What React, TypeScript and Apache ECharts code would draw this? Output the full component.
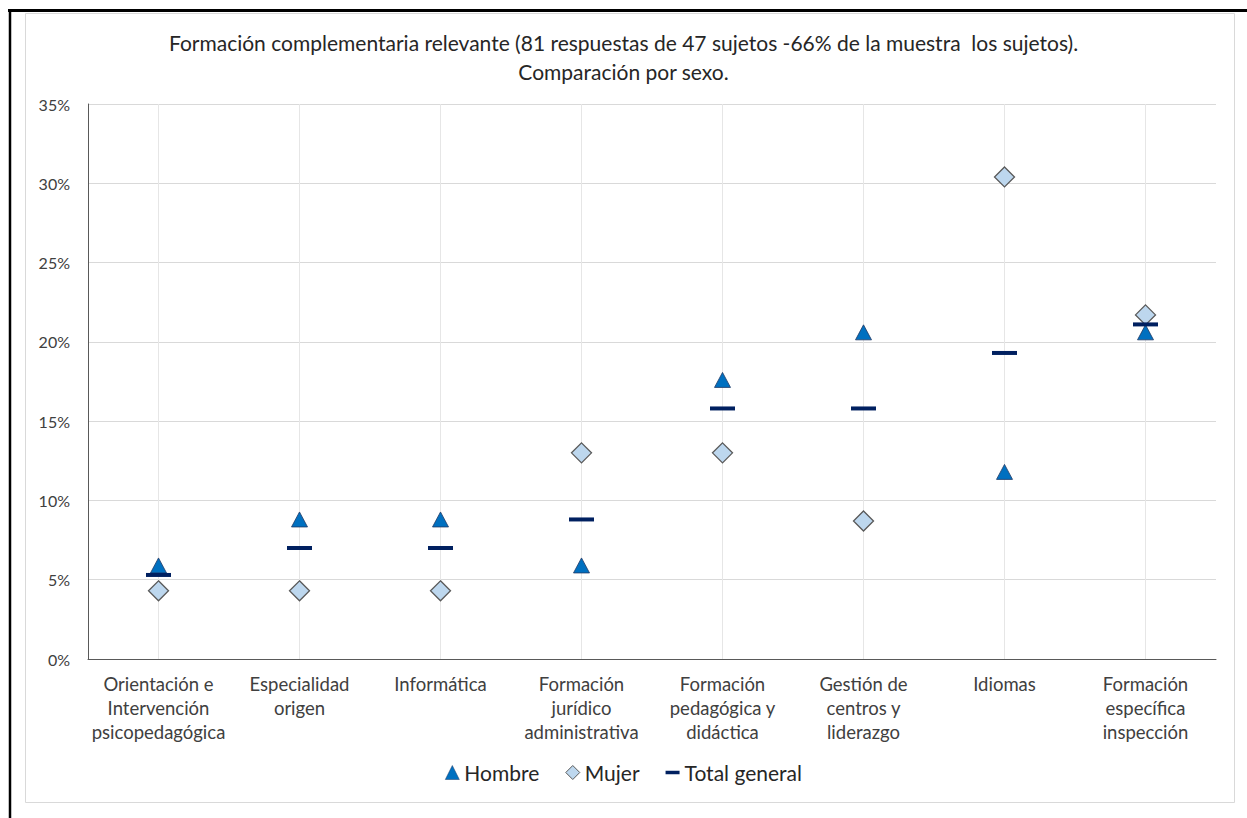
import React, { useEffect, useRef } from "react";
import * as echarts from "echarts";

const categories = [
  "Orientación e\nIntervención\npsicopedagógica",
  "Especialidad\norigen",
  "Informática",
  "Formación\njurídico\nadministrativa",
  "Formación\npedagógica y\ndidáctica",
  "Gestión de\ncentros y\nliderazgo",
  "Idiomas",
  "Formación\nespecífica\ninspección",
];
const hombre = [5.9, 8.8, 8.8, 5.9, 17.6, 20.6, 11.8, 20.6];
const mujer = [4.3, 4.3, 4.3, 13.0, 13.0, 8.7, 30.4, 21.7];
const total = [5.3, 7.0, 7.0, 8.8, 15.8, 15.8, 19.3, 21.1];
const yTicks = { min: 0, max: 35, interval: 5 };

const FONT = "Lato, 'Liberation Sans', sans-serif";
const TEXT = "#404040";

export default function App() {
  const ref = useRef<HTMLDivElement>(null);
  useEffect(() => {
    if (!ref.current) return;
    const chart = echarts.init(ref.current, null, { renderer: "svg" });
    chart.setOption({
      animation: false,
      backgroundColor: "#ffffff",
      textStyle: { fontFamily: FONT, color: TEXT },
      title: {
        text: "Formación complementaria relevante (81 respuestas de 47 sujetos -66% de la muestra  los sujetos).\nComparación por sexo.",
        left: "center",
        top: 23,
        textStyle: { fontFamily: FONT, fontSize: 21, fontWeight: "normal", color: "#262626", lineHeight: 29 },
      },
      graphic: [
        { type: "rect", shape: { x: 25.5, y: 13.5, width: 1209, height: 789 }, style: { fill: "none", stroke: "#d9d9d9", lineWidth: 1 }, silent: true },
        { type: "line", shape: { x1: 8, y1: 10.5, x2: 1247, y2: 10.5 }, style: { stroke: "#000", lineWidth: 3 }, silent: true },
        { type: "line", shape: { x1: 10, y1: 9, x2: 10, y2: 818 }, style: { stroke: "#000", lineWidth: 2.5 }, silent: true },
      ],
      legend: {
        bottom: 30,
        left: "center",
        itemGap: 26,
        itemWidth: 14,
        itemHeight: 14,
        textStyle: { fontFamily: FONT, fontSize: 21, color: "#262626" },
        data: [
          { name: "Hombre", icon: "triangle", itemStyle: { color: "#0070C0", borderColor: "#1f3864", borderWidth: 0.5 } },
          { name: "Mujer", icon: "diamond", itemStyle: { color: "#BDD7EE", borderColor: "#595959", borderWidth: 1 } },
          { name: "Total general", icon: "path://M0,0 H12 V3 H0 Z", itemStyle: { color: "#002060" } },
        ],
      },
      grid: { left: 88, right: 31, top: 104, bottom: 159, containLabel: false },
      xAxis: {
        type: "category",
        data: categories,
        boundaryGap: true,
        axisLine: { show: true, lineStyle: { color: "#595959", width: 1 } },
        axisTick: { show: false },
        splitLine: { show: true, alignWithLabel: true, lineStyle: { color: "#e6e6e6", width: 1 } },
        axisLabel: { interval: 0, fontFamily: FONT, fontSize: 18.5, color: TEXT, lineHeight: 24, margin: 13 },
      },
      yAxis: {
        type: "value",
        min: yTicks.min,
        max: yTicks.max,
        interval: yTicks.interval,
        axisLine: { show: true, lineStyle: { color: "#595959", width: 1 } },
        axisTick: { show: false },
        splitLine: { show: true, lineStyle: { color: "#d9d9d9", width: 1 } },
        axisLabel: { formatter: "{value}%", fontFamily: FONT, fontSize: 16, color: TEXT, margin: 18 },
      },
      series: [
        {
          name: "Hombre",
          type: "scatter",
          data: hombre,
          symbol: "triangle",
          symbolSize: [16, 15],
          z: 3,
          itemStyle: { color: "#0070C0", borderColor: "#1f3864", borderWidth: 0.8, opacity: 1 },
        },
        {
          name: "Mujer",
          type: "scatter",
          data: mujer,
          symbol: "diamond",
          symbolSize: [20, 20],
          z: 2,
          itemStyle: { color: "#BDD7EE", borderColor: "#595959", borderWidth: 1.3, opacity: 1 },
        },
        {
          name: "Total general",
          type: "scatter",
          data: total,
          symbol: "rect",
          symbolSize: [25, 4],
          z: 4,
          itemStyle: { color: "#002060", opacity: 1 },
        },
      ],
    });
    return () => chart.dispose();
  }, []);
  return (
    <div
      ref={ref}
      style={{ position: "fixed", left: 0, top: 0, width: 1247, height: 818 }}
    />
  );
}
